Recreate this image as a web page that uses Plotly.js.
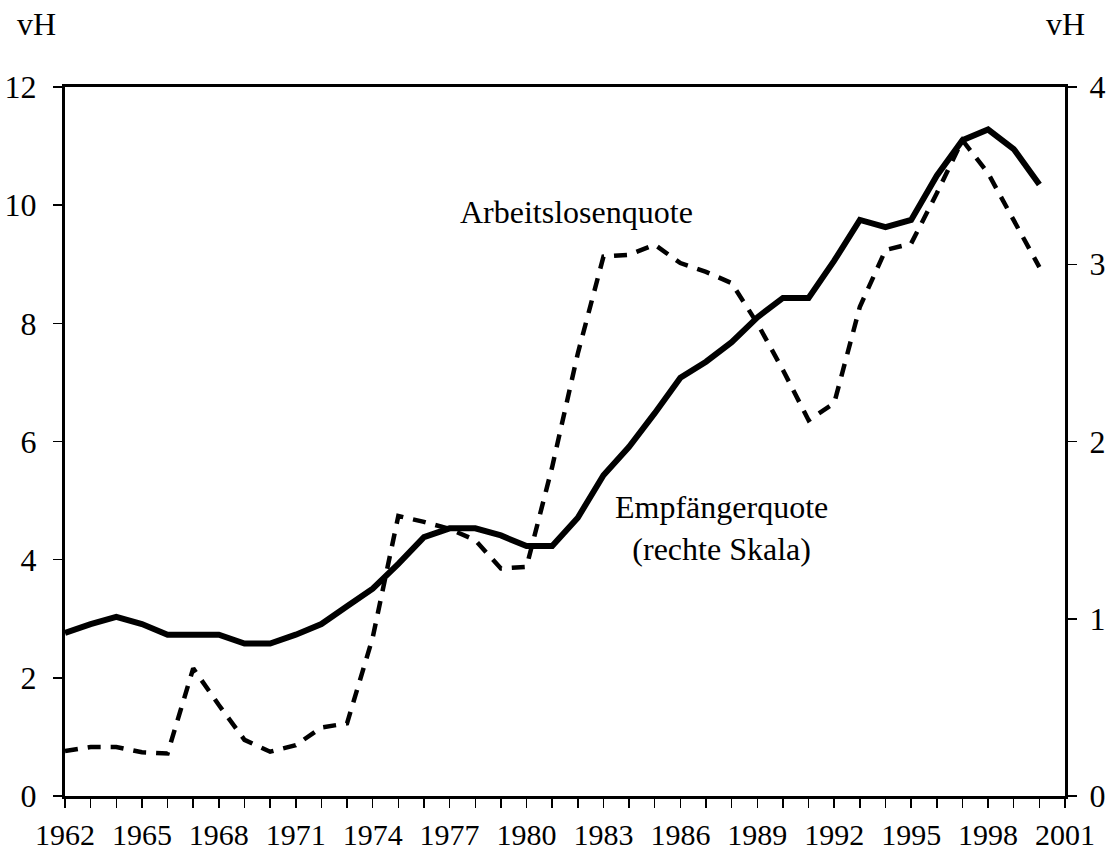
<!DOCTYPE html>
<html>
<head>
<meta charset="utf-8">
<script src="https://cdn.plot.ly/plotly-3.0.1.min.js"></script>
<style>html,body{margin:0;padding:0;background:#fff;}#chart{width:1106px;height:854px;}</style>
</head>
<body>
<div id="chart"></div>
<script>
const years = [1962,1963,1964,1965,1966,1967,1968,1969,1970,1971,1972,1973,1974,1975,1976,1977,1978,1979,1980,1981,1982,1983,1984,1985,1986,1987,1988,1989,1990,1991,1992,1993,1994,1995,1996,1997,1998,1999,2000];
// Arbeitslosenquote, vH (left scale)
const arbeitslosenquote = [0.76,0.83,0.83,0.74,0.72,2.16,1.54,0.95,0.75,0.86,1.16,1.23,2.68,4.74,4.64,4.52,4.33,3.85,3.88,5.57,7.49,9.13,9.16,9.33,9.02,8.87,8.68,8.0,7.21,6.36,6.65,8.28,9.24,9.35,10.2,11.1,10.54,9.75,8.95];
// Empfängerquote, vH (right scale)
const empfaengerquote = [0.92,0.97,1.01,0.97,0.91,0.91,0.91,0.86,0.86,0.91,0.97,1.07,1.17,1.31,1.46,1.51,1.51,1.47,1.41,1.41,1.57,1.81,1.97,2.16,2.36,2.45,2.56,2.70,2.81,2.81,3.02,3.25,3.21,3.25,3.50,3.70,3.76,3.65,3.45];
const xTickVals = [1962,1965,1968,1971,1974,1977,1980,1983,1986,1989,1992,1995,1998,2001];
const xTickText = ['1962','1965','1968','1971','1974','1977','1980','1983','1986','1989','1992','1995','1998','2001'];
const yLeftTicks = [0,2,4,6,8,10,12];
const yRightTicks = [0,1,2,3,4];

const FONT = 'Liberation Serif, Times New Roman, serif';
const FS = 32;

const traces = [
  {x: years, y: arbeitslosenquote, type: 'scatter', mode: 'lines', name: 'Arbeitslosenquote',
   line: {color: '#000', width: 4.5, dash: '13px,10px'}, yaxis: 'y'},
  {x: years, y: empfaengerquote, type: 'scatter', mode: 'lines', name: 'Empfängerquote',
   line: {color: '#000', width: 6}, yaxis: 'y2'}
];

const layout = {
  width: 1106, height: 854,
  margin: {l: 65, r: 41, t: 87, b: 58},
  paper_bgcolor: '#fff', plot_bgcolor: '#fff',
  showlegend: false,
  font: {family: FONT, size: FS, color: '#000'},
  xaxis: {
    range: [1962, 2001], tickmode: 'array', tickvals: xTickVals, ticktext: xTickText,
    ticks: 'outside', ticklen: 9, tickwidth: 1.5, tickcolor: '#000',
    minor: {tick0: 1962, dtick: 1, ticks: 'outside', ticklen: 9, tickwidth: 1.5, tickcolor: '#000'},
    showline: true, linewidth: 3, linecolor: '#000', mirror: true,
    showgrid: false, zeroline: false, tickfont: {family: FONT, size: 30},
    ticklabelstandoff: 1
  },
  yaxis: {
    range: [0, 12], tickmode: 'array', tickvals: yLeftTicks,
    ticks: 'outside', ticklen: 9, tickwidth: 1.5, tickcolor: '#000',
    showline: true, linewidth: 3, linecolor: '#000',
    showgrid: false, zeroline: false, tickfont: {family: FONT, size: FS},
    ticklabelstandoff: 10
  },
  yaxis2: {
    range: [0, 4], tickmode: 'array', tickvals: yRightTicks, overlaying: 'y', side: 'right',
    ticks: 'outside', ticklen: 9, tickwidth: 1.5, tickcolor: '#000',
    showline: true, linewidth: 3, linecolor: '#000',
    showgrid: false, zeroline: false, tickfont: {family: FONT, size: FS},
    ticklabelstandoff: 6
  },
  annotations: [
    {text: 'vH', xref: 'paper', yref: 'paper', x: -0.029, y: 1.089, showarrow: false, xanchor: 'center', yanchor: 'middle', font: {family: FONT, size: FS}},
    {text: 'vH', xref: 'paper', yref: 'paper', x: 1.0, y: 1.089, showarrow: false, xanchor: 'center', yanchor: 'middle', font: {family: FONT, size: FS}},
    {text: 'Arbeitslosenquote', xref: 'x', yref: 'y', x: 1981.93, y: 9.88, showarrow: false, xanchor: 'center', yanchor: 'middle', font: {family: FONT, size: FS}},
    {text: 'Empfängerquote<br>(rechte Skala)', xref: 'x', yref: 'y', x: 1987.6, y: 4.54, showarrow: false, xanchor: 'center', yanchor: 'middle', font: {family: FONT, size: FS}}
  ]
};

Plotly.newPlot('chart', traces, layout, {displayModeBar: false, staticPlot: true});
</script>
</body>
</html>
